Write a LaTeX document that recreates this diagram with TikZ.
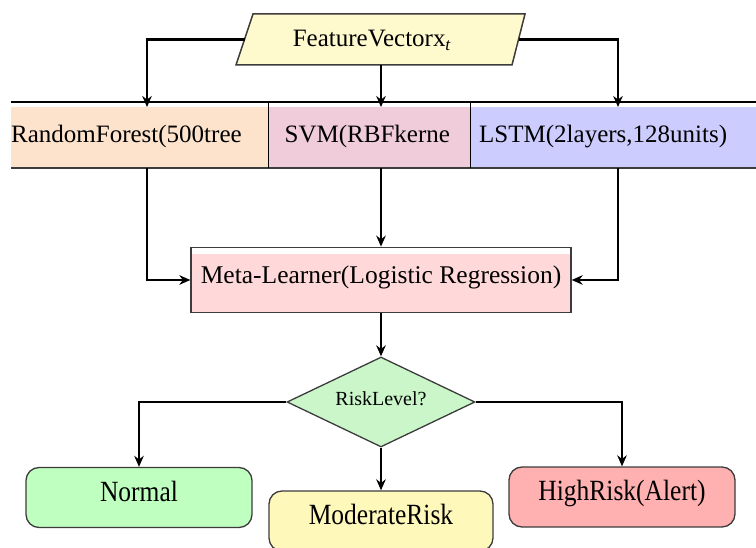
\documentclass[tikz,border=0pt]{standalone}
\usepackage{fontspec}
\setmainfont{Liberation Serif}
\usepackage{graphicx}
\usetikzlibrary{shapes.geometric,arrows.meta,calc}
\definecolor{fvcol}{RGB}{255,250,205}
\definecolor{rfcol}{RGB}{253,226,204}
\definecolor{svmcol}{RGB}{240,204,218}
\definecolor{lstmcol}{RGB}{204,204,255}
\definecolor{metacol}{RGB}{255,217,217}
\definecolor{diacol}{RGB}{202,246,202}
\definecolor{normcol}{RGB}{191,255,191}
\definecolor{modcol}{RGB}{255,248,187}
\definecolor{highcol}{RGB}{255,176,176}
\definecolor{edgecol}{RGB}{60,60,60}
\begin{document}
\begin{tikzpicture}[x=1pt,y=-1pt,
  arr/.style={draw=black,line width=2.2pt,-{Stealth[length=11pt,width=9.5pt]}},
  txt/.style={font=\fontsize{25}{30}\selectfont,inner sep=0pt},
  cell/.style={draw=none,inner sep=0pt,anchor=north west,minimum height=60.7pt},
  metabox/.style={rectangle,draw=edgecol,line width=1.3pt,fill=white,
    minimum width=380pt,minimum height=65.4pt,inner sep=0pt,
    font=\fontsize{25.5}{30}\selectfont,text height=.662em,text depth=0pt,
    path picture={\fill[metacol] ([yshift=-7pt]path picture bounding box.north west) rectangle (path picture bounding box.south east);}},
  dia/.style={diamond,draw=edgecol,line width=1.3pt,fill=diacol,
    minimum width=188pt,minimum height=90pt,inner sep=0pt,aspect=2.1,
    font=\fontsize{20}{24}\selectfont,text height=.662em,text depth=0pt},
  term/.style={rectangle,rounded corners=13pt,draw=edgecol,line width=1.3pt,
    minimum width=225pt,minimum height=60pt,inner sep=0pt,
    font=\fontsize{25.5}{30}\selectfont,text height=.76em,text depth=0pt},
  fvbox/.style={draw=edgecol,line width=1.5pt,fill=fvcol}
]
\useasboundingbox (0,0) rectangle (756,548);

% input parallelogram
\path[fvbox] (253,14) coordinate (fvNW) -- (525,14) coordinate (fvNE)
  -- (512,65) coordinate (fvSE) -- (236,65) coordinate (fvSW) -- cycle;
\coordinate (fvL) at ($(fvNW)!0.5!(fvSW)$);
\coordinate (fvR) at ($(fvNE)!0.5!(fvSE)$);
\node[txt,anchor=base] (fv) at (372,46.7) {FeatureVectorx\textsubscript{\textit{t}}};

% column positions
\coordinate (cL) at (147,0);
\coordinate (cM) at (381,0);
\coordinate (cR) at (618,0);
\coordinate (fvB) at (cM |- fvSW);

% band of base learners
\node[cell,fill=rfcol,minimum width=257pt] (rf) at (11,107) {};
\node[cell,fill=svmcol,minimum width=202pt] (svm) at (268,107) {};
\node[cell,fill=lstmcol,minimum width=286pt] (lstm) at (470,107) {};
\draw[black,line width=1.2pt] (11,102) -- (756,102);
\draw[edgecol,line width=2pt] (rf.south west) -- (lstm.south east);
\draw[black,line width=1pt] (268,102) -- (svm.south west);
\draw[black,line width=1pt] (470,102) -- (lstm.south west);
\node[txt,anchor=base west] (rftxt) at (11,143) {RandomForest(500tree};
\node[txt,anchor=base west] (svmtxt) at (284.5,143) {SVM(RBFkerne};
\node[txt,anchor=base west] (lstmtxt) at (479,143) {LSTM(2layers,128units)};

% meta learner
\node[metabox] (meta) at (381,280) {Meta-Learner(Logistic Regression)};

% decision
\node[dia] (dec) at (381,402) {RiskLevel?};

% outcomes
\node[term,fill=normcol,minimum width=226pt] (normal) at (139,497.5) {\scalebox{1}[1.15]{Normal}};
\node[term,fill=modcol,minimum width=224pt] (mod) at (381,521) {\scalebox{1}[1.15]{ModerateRisk}};
\node[term,fill=highcol,minimum width=226pt] (high) at (622,497) {\scalebox{1}[1.15]{HighRisk(Alert)}};

% connectors
\draw[arr] (fvL) -| (cL |- rf.north);
\draw[arr] (fvB) -- (cM |- svm.north);
\draw[arr] (fvR) -| (cR |- lstm.north);
\draw[arr] (cL |- rf.south) |- (meta.west);
\draw[arr] (cM |- svm.south) -- (meta.north);
\draw[arr] (cR |- lstm.south) |- (meta.east);
\draw[arr] (meta.south) -- (dec.north);
\draw[arr] (dec.west) -| (normal.north);
\draw[arr] (dec.south) -- (mod.north);
\draw[arr] (dec.east) -| (high.north);
\end{tikzpicture}
\end{document}
